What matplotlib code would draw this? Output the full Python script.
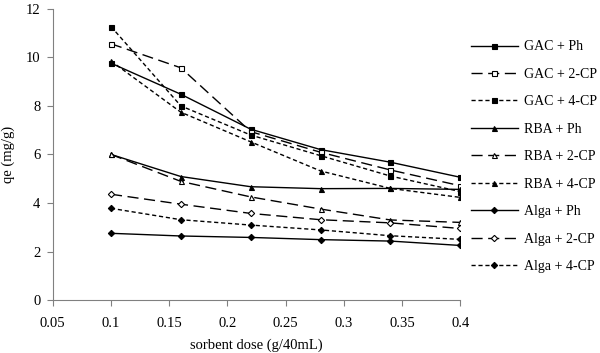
import matplotlib
matplotlib.use('Agg')
import matplotlib.pyplot as plt

# data
dose = [0.1, 0.16, 0.22, 0.28, 0.34, 0.4]
gac_ph = [9.76, 8.48, 7.04, 6.2, 5.68, 5.06]
gac_2cp = [10.56, 9.57, 6.94, 6.09, 5.36, 4.71]
gac_4cp = [11.27, 8.0, 6.8, 5.95, 5.11, 4.47]
rba_ph = [6.0, 5.09, 4.67, 4.59, 4.6, 4.56]
rba_2cp = [6.0, 4.89, 4.25, 3.75, 3.3, 3.2]
rba_4cp = [9.85, 7.74, 6.52, 5.32, 4.6, 4.23]
alga_ph = [2.75, 2.64, 2.58, 2.49, 2.43, 2.25]
alga_2cp = [4.36, 3.95, 3.57, 3.31, 3.18, 2.95]
alga_4cp = [3.78, 3.31, 3.09, 2.89, 2.65, 2.5]

labels = ['GAC + Ph', 'GAC + 2-CP', 'GAC + 4-CP',
          'RBA + Ph', 'RBA + 2-CP', 'RBA + 4-CP',
          'Alga + Ph', 'Alga + 2-CP', 'Alga + 4-CP']
series = [gac_ph, gac_2cp, gac_4cp, rba_ph, rba_2cp, rba_4cp,
          alga_ph, alga_2cp, alga_4cp]

solid = '-'
dashed = (0, (8, 4))
dotted = (0, (3, 2))
styles = [
    (solid, 's', 'black'), (dashed, 's', 'white'), (dotted, 's', 'black'),
    (solid, '^', 'black'), (dashed, '^', 'white'), (dotted, '^', 'black'),
    (solid, 'D', 'black'), (dashed, 'D', 'white'), (dotted, 'D', 'black'),
]

plt.rcParams['font.family'] = ['Liberation Serif', 'DejaVu Serif']

fig = plt.figure(figsize=(6, 3.53), dpi=100)
ax = fig.add_axes([0.088, 0.150, 0.679, 0.825])

for y, lab, (ls, mk, fc) in zip(series, labels, styles):
    ms = 3.6 if mk != 'D' else 3.2
    ax.plot(dose, y, linestyle=ls, color='black', linewidth=1.0,
            marker=mk, markersize=ms, markerfacecolor=fc,
            markeredgecolor='black', markeredgewidth=0.8, label=lab)

ax.set_xlim(0.05, 0.4)
ax.set_ylim(0, 12)
ax.set_xticks([0.05, 0.1, 0.15, 0.2, 0.25, 0.3, 0.35, 0.4])
ax.set_xticklabels(['0.05', '0.1', '0.15', '0.2', '0.25', '0.3', '0.35', '0.4'])
ax.set_yticks(range(0, 13, 2))
ax.tick_params(labelsize=10.5, color='#808080', length=4, direction='out')
ax.tick_params(axis='x', pad=8)
ax.tick_params(axis='y', pad=5)
for s in ['top', 'right']:
    ax.spines[s].set_visible(False)
for s in ['left', 'bottom']:
    ax.spines[s].set_color('#808080')

ax.set_xlabel('sorbent dose (g/40mL)', fontsize=10.5, labelpad=6)
ax.set_ylabel('qe (mg/g)', fontsize=10.5, labelpad=8)

ax.legend(loc='upper left', bbox_to_anchor=(1.005, 0.92), frameon=False,
          fontsize=10, handlelength=3.4, labelspacing=1.04,
          handletextpad=0.45, borderaxespad=0.2)

fig.savefig('out.png', dpi=100)
